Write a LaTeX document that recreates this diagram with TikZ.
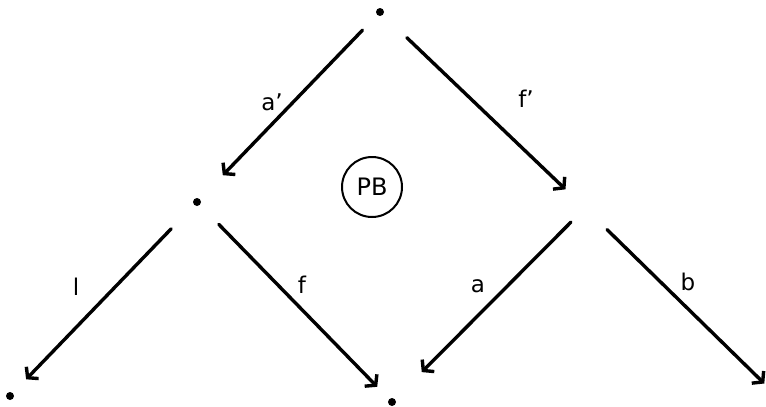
\documentclass[tikz,border=0pt]{standalone}
\usepackage{fontspec}
\setsansfont{DejaVu Sans}
\usetikzlibrary{arrows.meta}
\tikzset{
  vdot/.style={circle, fill=black, inner sep=0pt, minimum size=8pt},
  mapl/.style={font=\sffamily\fontsize{23}{26}\selectfont, inner sep=0pt},
  marr/.style={-{Straight Barb[length=7pt, width=17pt]}, line width=3.4pt, line cap=round},
  pbring/.style={circle, draw, line width=2pt, minimum size=60pt, inner sep=0pt,
    font=\sffamily\fontsize{24}{26}\selectfont}
}

\begin{document}
\begin{tikzpicture}[x=1pt, y=-1pt]

  % ── Frame ──────────────────────────────────────────────────────
  \useasboundingbox (0,0) rectangle (766,407);

  % ── Vertices ───────────────────────────────────────────────────
  \node[vdot] (top) at (380,12) {};
  \node[vdot] (mid left) at (197,202) {};
  \coordinate (mid right) at (585,208);
  \node[vdot] (bot left) at (10,396) {};
  \node[vdot] (bot mid) at (392,402) {};
  \coordinate (bot right) at (775,394);

  % ── Pullback mark ──────────────────────────────────────────────
  \node[pbring] (pb) at (372,187) {PB};

  % ── Upper square ───────────────────────────────────────────────
  \draw[marr, shorten <=21pt, shorten >=33pt] (top) -- (mid left);
  \draw[marr, shorten <=33pt, shorten >=27pt] (top) -- (mid right);

  % ── Lower spans ────────────────────────────────────────────────
  \draw[marr, shorten <=33pt, shorten >=19pt] (mid left) -- (bot left);
  \draw[marr, shorten <=27pt, shorten >=17pt] (mid left) -- (bot mid);
  \draw[marr, shorten <=20pt, shorten >=38pt] (mid right) -- (bot mid);
  \draw[marr, shorten <=31pt, shorten >=15pt] (mid right) -- (bot right);

  % ── Labels ─────────────────────────────────────────────────────
  \node[mapl] (lab a1) at (272,102) {a'};
  \node[mapl] (lab f1) at (526,99) {f'};
  \node[mapl] (lab l) at (76,287) {l};
  \node[mapl] (lab f) at (302,285) {f};
  \node[mapl] (lab a) at (478,286) {a};
  \node[mapl] (lab b) at (688,282) {b};

\end{tikzpicture}
\end{document}
